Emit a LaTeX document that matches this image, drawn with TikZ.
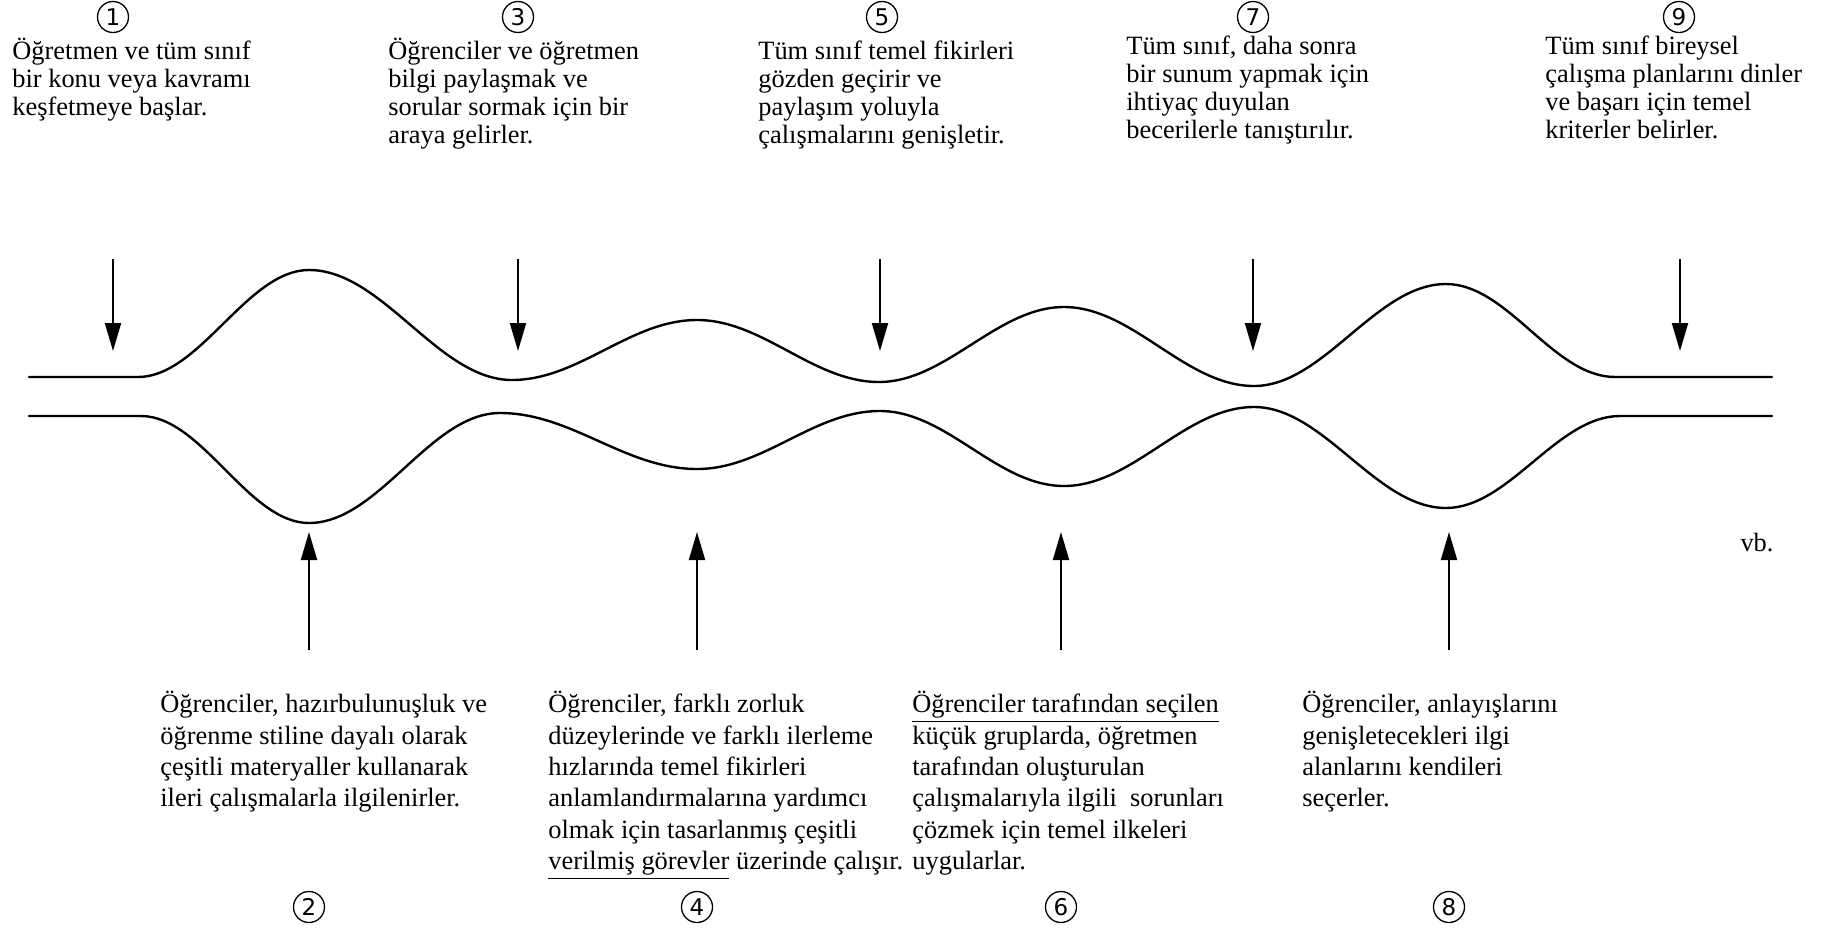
\documentclass[tikz,border=0pt]{standalone}
\usepackage{fontspec}
\setmainfont{Liberation Serif}
\newfontfamily\numfont{DejaVu Sans}
\usetikzlibrary{arrows.meta}

\begin{document}
\begin{tikzpicture}[x=0.5pt,y=-0.5pt,
  pipe/.style={line width=1.2pt, line cap=round, line join=round},
  arr/.style={line width=1pt, -{Triangle[length=14pt,width=8pt]}},
  num/.style={draw, circle, line width=0.65pt, minimum size=15.5pt, inner sep=0pt,
              font=\numfont\fontsize{11.5}{13}\selectfont},
  toptext/.style={anchor=north west, align=left, inner sep=0pt,
                  font=\fontsize{13.2}{13.9}\selectfont},
  bottext/.style={anchor=north west, align=left, inner sep=0pt,
                  font=\fontsize{13.2}{15.7}\selectfont},
]
\useasboundingbox (0,0) rectangle (1828,928);
\fill[white] (0,0) rectangle (1828,928);

% upper wall of the channel
\draw[pipe] (29,377) -- (138,377)
  .. controls +(62,0) and +(-62,0) .. (309,270)
  .. controls +(74,0) and +(-74,0) .. (512,380)
  .. controls +(67,0) and +(-67,0) .. (697,320)
  .. controls +(66,0) and +(-66,0) .. (879,382)
  .. controls +(67,0) and +(-67,0) .. (1064,307)
  .. controls +(69,0) and +(-69,0) .. (1254,386)
  .. controls +(70,0) and +(-70,0) .. (1446,284)
  .. controls +(62,0) and +(-62,0) .. (1615,377) -- (1772,377);

% lower wall of the channel
\draw[pipe] (29,416) -- (141,416)
  .. controls +(61,0) and +(-61,0) .. (309,523)
  .. controls +(70,0) and +(-70,0) .. (500,413)
  .. controls +(72,0) and +(-72,0) .. (697,469)
  .. controls +(67,0) and +(-67,0) .. (880,411)
  .. controls +(67,0) and +(-67,0) .. (1064,486)
  .. controls +(69,0) and +(-69,0) .. (1254,407)
  .. controls +(70,0) and +(-70,0) .. (1446,508)
  .. controls +(63,0) and +(-63,0) .. (1620,416) -- (1772,416);

% arrows from above (odd steps)
\foreach \k/\x in {1/113, 3/518, 5/880, 7/1253, 9/1680} {
  \coordinate (a\k) at (\x,259);
  \coordinate (b\k) at (\x,351);
  \draw[arr] (a\k) -- (b\k);
}
% arrows from below (even steps)
\foreach \k/\x in {2/309, 4/697, 6/1061, 8/1449} {
  \coordinate (a\k) at (\x,650);
  \coordinate (b\k) at (\x,532);
  \draw[arr] (a\k) -- (b\k);
}

% step numbers
\node[num] (n1) at (113,17) {1};
\node[num] (n3) at (518,17) {3};
\node[num] (n5) at (882,17) {5};
\node[num] (n7) at (1253,17) {7};
\node[num] (n9) at (1679,17) {9};
\node[num] (n2) at (309,907) {2};
\node[num] (n4) at (697,907) {4};
\node[num] (n6) at (1061,907) {6};
\node[num] (n8) at (1449,907) {8};

% descriptions above the channel
\node[toptext] (t1) at (12,38) {Öğretmen ve tüm sınıf\\bir konu veya kavramı\\keşfetmeye başlar.};
\node[toptext] (t3) at (388,38) {Öğrenciler ve öğretmen\\bilgi paylaşmak ve\\sorular sormak için bir\\araya gelirler.};
\node[toptext] (t5) at (758,41) {Tüm sınıf temel fikirleri\\gözden geçirir ve\\paylaşım yoluyla\\çalışmalarını genişletir.};
\node[toptext] (t7) at (1126,36) {Tüm sınıf, daha sonra\\bir sunum yapmak için\\ihtiyaç duyulan\\becerilerle tanıştırılır.};
\node[toptext] (t9) at (1545,36) {Tüm sınıf bireysel\\çalışma planlarını dinler\\ve başarı için temel\\kriterler belirler.};

% descriptions below the channel
\node[bottext] (t2) at (160,691) {Öğrenciler, hazırbulunuşluk ve\\öğrenme stiline dayalı olarak\\çeşitli materyaller kullanarak\\ileri çalışmalarla ilgilenirler.};
\node[bottext] (t4) at (548,691) {Öğrenciler, farklı zorluk\\düzeylerinde ve farklı ilerleme\\hızlarında temel fikirleri\\anlamlandırmalarına yardımcı\\olmak için tasarlanmış çeşitli\\\underline{verilmiş görevler} üzerinde çalışır.};
\node[bottext] (t6) at (912,691) {\underline{Öğrenciler tarafından seçilen}\\küçük gruplarda, öğretmen\\tarafından oluşturulan\\çalışmalarıyla ilgili\ \ sorunları\\çözmek için temel ilkeleri\\uygularlar.};
\node[bottext] (t8) at (1302,691) {Öğrenciler, anlayışlarını\\genişletecekleri ilgi\\alanlarını kendileri\\seçerler.};

\node[font=\fontsize{13.2}{14.4}\selectfont] (vb) at (1757,543) {vb.};
\end{tikzpicture}
\end{document}
